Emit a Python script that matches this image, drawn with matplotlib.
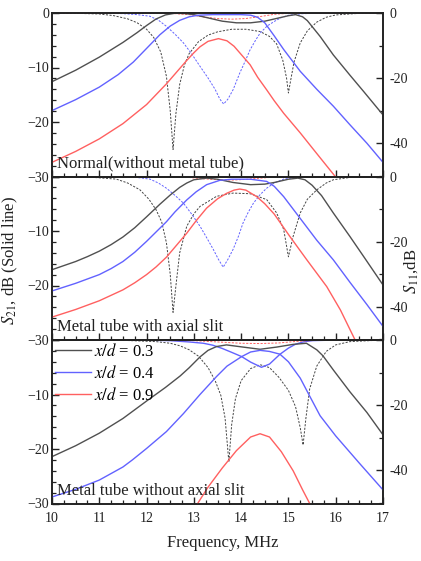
import matplotlib
matplotlib.use('Agg')
import matplotlib.pyplot as plt
from matplotlib.ticker import MultipleLocator
from matplotlib.lines import Line2D

plt.rcParams['font.family'] = ['Liberation Serif', 'DejaVu Serif']
plt.rcParams['mathtext.fontset'] = 'stix'

labels = ['$x/d$ = 0.3', '$x/d$ = 0.4', '$x/d$ = 0.9']
panel_titles = ['Normal(without metal tube)', 'Metal tube with axial slit',
                'Metal tube without axial slit']
colors = ['#505050', '#6262ff', '#ff6060']
s11_colors = ['#444444', '#6262ff', '#ff6060']

# ---------------- Panel 1: Normal (without metal tube) ----------------
p1_s21_black_f = [10.0, 10.5, 11.0, 11.5, 11.8, 12.0, 12.2, 12.4, 12.6, 12.8, 13.0, 13.3, 13.6, 13.9, 14.2, 14.5, 14.8, 15.0, 15.15, 15.3, 15.4, 15.67, 15.95, 16.3, 16.6, 17.0]
p1_s21_black_v = [-12.6, -10.5, -8.1, -5.4, -3.6, -2.3, -1.1, -0.35, -0.05, -0.1, -0.3, -0.9, -1.5, -1.8, -1.8, -1.5, -0.9, -0.5, -0.3, -0.7, -1.4, -4.3, -7.7, -11.4, -14.5, -18.7]
p1_s21_blue_f = [10.0, 10.5, 11.0, 11.4, 11.72, 12.0, 12.28, 12.5, 12.7, 12.9, 13.1, 13.4, 13.7, 14.0, 14.2, 14.35, 14.5, 14.7, 14.9, 15.25, 15.6, 15.95, 16.3, 16.66, 17.0]
p1_s21_blue_v = [-17.9, -15.9, -13.6, -11.3, -9.0, -6.5, -4.0, -2.4, -1.35, -0.7, -0.4, -0.3, -0.3, -0.3, -0.4, -0.8, -1.8, -4.2, -6.7, -10.7, -14.0, -17.1, -20.5, -23.9, -27.4]
p1_s21_red_f = [10.0, 10.5, 11.0, 11.5, 12.0, 12.42, 12.7, 12.85, 13.0, 13.13, 13.3, 13.52, 13.7, 13.85, 14.0, 14.19, 14.35, 14.54, 14.7, 14.9, 15.25, 15.6, 15.99]
p1_s21_red_v = [-27.4, -25.4, -23.1, -20.3, -16.8, -13.0, -10.2, -8.7, -7.3, -6.2, -5.2, -4.7, -5.1, -6.1, -7.6, -9.5, -11.8, -14.1, -16.1, -18.4, -22.0, -25.8, -30.0]
p1_s11_black_f = [10.0, 10.5, 11.0, 11.3, 11.6, 11.8, 12.0, 12.15, 12.3, 12.42, 12.5, 12.56, 12.62, 12.7, 12.8, 12.9, 13.1, 13.3, 13.5, 13.8, 14.1, 14.4, 14.6, 14.75, 14.88, 14.96, 15.0, 15.05, 15.12, 15.25, 15.4, 15.6, 15.8, 16.0, 16.5, 17.0]
p1_s11_black_v = [0.0, -0.1, -0.3, -0.8, -1.8, -3.0, -5.0, -7.5, -12.0, -19.5, -30.0, -42.0, -31.0, -22.0, -16.0, -12.5, -8.8, -6.8, -5.8, -5.0, -5.0, -5.7, -7.2, -9.5, -14.5, -20.0, -24.6, -20.5, -15.0, -9.2, -5.5, -2.8, -1.3, -0.6, -0.1, 0.0]
p1_s11_blue_f = [10.0, 11.0, 11.5, 11.8, 12.07, 12.25, 12.42, 12.6, 12.78, 12.95, 13.13, 13.3, 13.45, 13.55, 13.63, 13.72, 13.83, 13.97, 14.08, 14.19, 14.3, 14.4, 14.55, 14.7, 14.85, 15.0, 15.3, 16.0, 17.0]
p1_s11_blue_v = [0.0, -0.05, -0.2, -0.5, -1.0, -2.2, -4.1, -6.5, -9.2, -12.5, -16.4, -20.0, -23.5, -26.5, -28.0, -26.5, -23.6, -18.5, -15.0, -11.3, -8.5, -6.2, -4.0, -2.6, -1.4, -0.7, -0.2, 0.0, 0.0]
p1_s11_red_f = [10.0, 12.5, 12.9, 13.2, 13.5, 13.8, 14.1, 14.4, 14.7, 15.0, 17.0]
p1_s11_red_v = [0.0, -0.1, -0.5, -1.2, -1.7, -1.9, -1.7, -1.1, -0.4, -0.1, 0.0]

# ---------------- Panel 2: Metal tube with axial slit ----------------
p2_s21_black_f = [10.0, 10.5, 10.75, 11.0, 11.25, 11.5, 11.75, 12.0, 12.28, 12.5, 12.7, 12.85, 13.0, 13.27, 13.5, 13.83, 14.2, 14.5, 14.7, 15.0, 15.2, 15.35, 15.5, 15.7, 15.95, 16.3, 16.6, 17.0]
p2_s21_black_v = [-17.1, -15.6, -14.7, -13.7, -12.5, -11.1, -9.4, -7.4, -5.1, -3.4, -2.0, -1.2, -0.6, -0.3, -0.5, -1.1, -1.5, -1.4, -1.1, -0.5, -0.3, -0.6, -1.6, -3.5, -6.7, -11.0, -14.8, -19.9]
p2_s21_blue_f = [10.0, 10.5, 11.0, 11.25, 11.5, 11.75, 12.0, 12.42, 12.6, 12.85, 13.05, 13.27, 13.55, 13.8, 14.2, 14.54, 14.7, 14.9, 15.25, 15.6, 15.95, 16.3, 16.66, 17.0]
p2_s21_blue_v = [-21.0, -19.6, -18.0, -16.9, -15.6, -13.9, -11.9, -8.3, -6.5, -4.3, -2.8, -1.5, -0.7, -0.5, -0.5, -0.9, -1.8, -3.7, -7.7, -11.7, -15.3, -19.4, -23.5, -27.5]
p2_s21_red_f = [10.0, 10.5, 11.0, 11.5, 11.75, 12.0, 12.2, 12.42, 12.85, 13.05, 13.27, 13.5, 13.69, 13.85, 13.97, 14.1, 14.33, 14.5, 14.7, 15.03, 15.39, 15.81, 16.1, 16.41]
p2_s21_red_v = [-25.8, -24.4, -22.8, -20.8, -19.5, -18.0, -16.6, -14.8, -10.4, -8.1, -5.8, -4.1, -3.1, -2.5, -2.3, -2.5, -3.7, -5.0, -6.9, -11.0, -15.3, -20.2, -24.5, -30.0]
p2_s11_black_f = [10.0, 10.8, 11.36, 11.6, 11.86, 12.05, 12.2, 12.32, 12.42, 12.5, 12.56, 12.62, 12.7, 12.85, 13.0, 13.13, 13.48, 13.83, 14.19, 14.54, 14.75, 14.9, 15.0, 15.1, 15.25, 15.4, 15.6, 15.8, 15.95, 16.3, 17.0]
p2_s11_black_v = [0.0, -0.2, -0.8, -2.0, -4.1, -7.0, -10.2, -14.0, -20.4, -30.0, -41.8, -33.7, -23.5, -15.3, -11.5, -9.2, -6.1, -5.1, -5.3, -7.1, -11.2, -16.3, -24.7, -18.4, -11.2, -7.0, -4.1, -2.0, -1.0, -0.3, 0.0]
p2_s11_blue_f = [10.0, 11.5, 11.8, 12.07, 12.25, 12.42, 12.6, 12.78, 12.95, 13.13, 13.27, 13.41, 13.52, 13.62, 13.72, 13.83, 13.94, 14.04, 14.15, 14.26, 14.4, 14.54, 14.7, 14.9, 15.2, 16.0, 17.0]
p2_s11_blue_v = [0.0, -0.1, -0.3, -0.8, -2.0, -3.6, -5.8, -8.2, -11.5, -15.3, -18.8, -22.4, -25.5, -27.9, -25.5, -22.4, -18.5, -14.3, -11.0, -8.2, -5.6, -3.6, -2.0, -0.8, -0.2, 0.0, 0.0]
p2_s11_red_f = [10.0, 12.5, 12.9, 13.2, 13.5, 13.8, 14.1, 14.4, 14.7, 15.0, 17.0]
p2_s11_red_v = [0.0, -0.1, -0.3, -0.7, -1.0, -1.1, -0.9, -0.5, -0.2, -0.05, 0.0]

# ---------------- Panel 3: Metal tube without axial slit ----------------
p3_s21_black_f = [10.0, 10.5, 11.0, 11.5, 12.0, 12.4, 12.71, 12.9, 13.13, 13.3, 13.48, 13.69, 14.04, 14.4, 14.75, 15.1, 15.38, 15.6, 15.73, 15.95, 16.3, 16.66, 17.0]
p3_s21_black_v = [-21.4, -19.4, -17.1, -14.4, -11.2, -8.7, -6.6, -5.1, -3.1, -1.9, -1.2, -0.9, -1.3, -1.7, -1.3, -0.8, -0.6, -1.8, -2.9, -5.5, -9.5, -13.3, -17.4]
p3_s21_blue_f = [10.0, 10.5, 11.0, 11.5, 11.7, 12.0, 12.42, 12.78, 13.13, 13.48, 13.7, 14.01, 14.2, 14.4, 14.6, 14.82, 15.0, 15.25, 15.45, 15.67, 16.0, 16.5, 17.0]
p3_s21_blue_v = [-28.8, -27.4, -25.7, -23.3, -22.0, -19.9, -16.8, -13.5, -10.0, -6.7, -4.8, -3.05, -2.2, -1.9, -2.1, -2.6, -4.0, -7.0, -10.3, -13.9, -17.6, -22.6, -27.5]
p3_s21_red_f = [13.08, 13.3, 13.6, 13.9, 14.2, 14.4, 14.6, 14.85, 15.1, 15.3, 15.45]
p3_s21_red_v = [-30.0, -27.0, -23.5, -20.3, -17.8, -17.2, -17.8, -20.5, -24.0, -27.5, -30.0]
p3_s11_black_f = [10.0, 11.5, 12.2, 12.5, 12.71, 12.9, 13.1, 13.3, 13.45, 13.57, 13.66, 13.74, 13.8, 13.88, 14.0, 14.2, 14.4, 14.6, 14.8, 15.0, 15.15, 15.25, 15.31, 15.37, 15.45, 15.6, 15.8, 16.0, 16.3, 17.0]
p3_s11_black_v = [0.0, -0.1, -0.5, -1.0, -1.8, -3.0, -5.0, -8.5, -12.5, -17.0, -24.0, -37.5, -26.0, -18.0, -12.5, -8.8, -7.6, -8.5, -11.5, -15.5, -20.5, -27.0, -32.3, -24.0, -15.0, -8.0, -3.5, -1.5, -0.5, 0.0]
p3_s11_blue_f = [10.0, 12.0, 12.5, 12.9, 13.2, 13.4, 13.6, 13.8, 14.01, 14.2, 14.43, 14.6, 14.82, 15.0, 15.15, 15.31, 15.5, 16.0, 17.0]
p3_s11_blue_v = [0.0, -0.05, -0.2, -0.6, -1.0, -1.6, -2.6, -3.8, -5.1, -6.8, -8.4, -7.4, -4.4, -2.5, -1.3, -0.6, -0.2, 0.0, 0.0]
p3_s11_red_f = [10.0, 13.0, 13.5, 14.0, 14.4, 14.8, 15.2, 15.6, 17.0]
p3_s11_red_v = [0.0, -0.2, -0.6, -1.0, -1.1, -0.9, -0.4, -0.1, 0.0]

panels = [
    dict(s21=[(p1_s21_black_f, p1_s21_black_v), (p1_s21_blue_f, p1_s21_blue_v), (p1_s21_red_f, p1_s21_red_v)],
         s11=[(p1_s11_black_f, p1_s11_black_v), (p1_s11_blue_f, p1_s11_blue_v), (p1_s11_red_f, p1_s11_red_v)],
         s11_solid=[False, False, False]),
    dict(s21=[(p2_s21_black_f, p2_s21_black_v), (p2_s21_blue_f, p2_s21_blue_v), (p2_s21_red_f, p2_s21_red_v)],
         s11=[(p2_s11_black_f, p2_s11_black_v), (p2_s11_blue_f, p2_s11_blue_v), (p2_s11_red_f, p2_s11_red_v)],
         s11_solid=[False, False, False]),
    dict(s21=[(p3_s21_black_f, p3_s21_black_v), (p3_s21_blue_f, p3_s21_blue_v), (p3_s21_red_f, p3_s21_red_v)],
         s11=[(p3_s11_black_f, p3_s11_black_v), (p3_s11_blue_f, p3_s11_blue_v), (p3_s11_red_f, p3_s11_red_v)],
         s11_solid=[False, True, False]),
]

W, H = 421, 561
fig = plt.figure(figsize=(W / 100, H / 100), dpi=100)
left_px, right_px, top_px, ph = 52, 383, 13, 163.5

for i, pdata in enumerate(panels):
    y0 = 1 - (top_px + (i + 1) * ph) / H
    ax = fig.add_axes([left_px / W, y0, (right_px - left_px) / W, ph / H])
    ax2 = ax.twinx()
    ax.set_zorder(ax2.get_zorder() + 1)
    ax.patch.set_visible(False)

    for k, (f, v) in enumerate(pdata['s21']):
        ax.plot(f, v, color=colors[k], lw=1.0, solid_joinstyle='round')
    for k, (f, v) in enumerate(pdata['s11']):
        if pdata['s11_solid'][k]:
            ax2.plot(f, v, color=s11_colors[k], lw=1.0, solid_joinstyle='round')
        else:
            ax2.plot(f, v, color=s11_colors[k], lw=0.7, dashes=(2.2, 1.5))

    ax.set_xlim(10, 17)
    ax.set_ylim(-30, 0)
    ax2.set_ylim(-50.3, 0)

    ax.xaxis.set_major_locator(MultipleLocator(1))
    ax.xaxis.set_minor_locator(MultipleLocator(0.25))
    ax.set_yticks([-30, -20, -10, 0])
    if i == 0:
        ax.set_yticklabels(['\u221230', '\u221220', '\u221210', '0'])
    else:
        ax.set_yticklabels(['\u221230', '\u221220', '\u221210', ''])
    ax.yaxis.set_minor_locator(MultipleLocator(2))
    ax2.set_yticks([-40, -20, 0])
    ax2.set_yticklabels(['-40', '-20', '0'])
    ax2.yaxis.set_minor_locator(MultipleLocator(10))

    ax.tick_params(axis='both', which='major', direction='in', length=5, width=1.0,
                   labelsize=10, top=False, right=False, colors='#222222')
    ax.tick_params(axis='both', which='minor', direction='in', length=3, width=0.9,
                   top=False, right=False, colors='#222222')
    ax.tick_params(axis='y', which='major', pad=2)
    ax.tick_params(axis='x', which='major', pad=6)
    ax2.tick_params(axis='y', which='major', direction='in', length=5, width=1.0,
                    labelsize=10, pad=5, colors='#222222')
    ax2.tick_params(axis='y', which='minor', direction='in', length=3, width=0.9,
                    colors='#222222')
    if i < 2:
        ax.tick_params(axis='x', labelbottom=False)

    for sp in list(ax.spines.values()) + list(ax2.spines.values()):
        sp.set_linewidth(1.2)
        sp.set_color('#222222')

    ax.text(0.015, 0.055, panel_titles[i], transform=ax.transAxes, fontsize=12,
            ha='left', va='baseline', color='#222222')

    if i == 2:
        handles = [Line2D([], [], color=c, lw=1.0) for c in colors]
        ax.legend(handles, labels, loc='upper left', bbox_to_anchor=(0.0, 1.0),
                  frameon=False, fontsize=12, borderaxespad=0.0, borderpad=0.15,
                  handlelength=2.2, handletextpad=0.2, labelspacing=0.3)

fig.text(10 / W, 1 - 260 / H, '$S_{21}$, dB (Solid line)', rotation=90,
         ha='center', va='center', fontsize=12, color='#222222')
fig.text(411 / W, 1 - 271 / H, '$S_{11}$,dB', rotation=90,
         ha='center', va='center', fontsize=12, color='#222222')
fig.text(223 / W, 1 - 543 / H, 'Frequency, MHz', ha='center', va='center',
         fontsize=12, color='#222222')

fig.savefig('out.png', dpi=100)
